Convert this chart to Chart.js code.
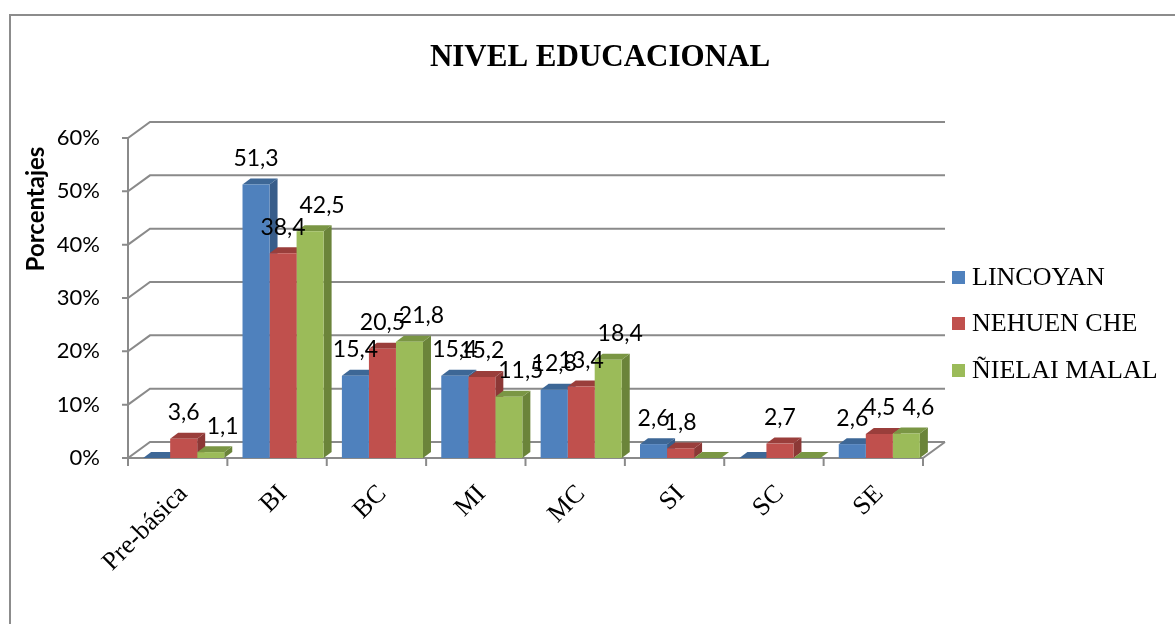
<!DOCTYPE html>
<html><head><meta charset="utf-8">
<script src="https://cdn.jsdelivr.net/npm/chart.js@4.4.0/dist/chart.umd.min.js"></script>
<style>html,body{margin:0;padding:0;background:#fff;overflow:hidden}canvas{display:block}</style>
</head><body>
<canvas id="c" width="1175" height="624" style="width:1175px;height:624px"></canvas>
<script>
const categories = ['Pre-básica', 'BI', 'BC', 'MI', 'MC', 'SI', 'SC', 'SE'];
const seriesNames = ['LINCOYAN', 'NEHUEN CHE', 'ÑIELAI MALAL'];
const lincoyan = [0, 51.3, 15.4, 15.4, 12.8, 2.6, 0, 2.6];
const nehuenChe = [3.6, 38.4, 20.5, 15.2, 13.4, 1.8, 2.7, 4.5];
const nielaiMalal = [1.1, 42.5, 21.8, 11.5, 18.4, 0, 0, 4.6];
const yTickValues = [0, 10, 20, 30, 40, 50, 60];
const chartTitle = 'NIVEL EDUCACIONAL';
const yAxisTitle = 'Porcentajes';

const palette = [
  {front: '#4F81BD', top: '#3D6796', side: '#385D8A'},
  {front: '#C0504D', top: '#9A3E3B', side: '#8C3836'},
  {front: '#9BBB59', top: '#7A9644', side: '#6B843A'}
];
const DX = 22, DY = -16;   // wall depth
const BDX = 8, BDY = -6;   // bar depth
const GRID = '#8a8a8a';
const LABEL_FONT = '23px Lato, "Open Sans", sans-serif';

function poly(ctx, pts, color) {
  ctx.beginPath();
  ctx.moveTo(pts[0][0], pts[0][1]);
  for (let k = 1; k < pts.length; k++) ctx.lineTo(pts[k][0], pts[k][1]);
  ctx.closePath();
  ctx.fillStyle = color;
  ctx.fill();
}

const threeD = {
  id: 'threeD',
  beforeDraw(chart) {
    const ctx = chart.ctx;
    ctx.save();
    ctx.fillStyle = '#fff';
    ctx.fillRect(0, 0, chart.width, chart.height);
    // outer frame
    ctx.strokeStyle = '#8c8c8c';
    ctx.lineWidth = 2;
    ctx.beginPath();
    ctx.moveTo(10, 624); ctx.lineTo(10, 15); ctx.lineTo(1175, 15);
    ctx.stroke();
    // title
    ctx.fillStyle = '#000';
    ctx.font = 'bold 31px "Liberation Serif", "Times New Roman", serif';
    ctx.textAlign = 'center';
    ctx.textBaseline = 'alphabetic';
    ctx.fillText(chartTitle, 600, 66);
    // y axis title
    ctx.save();
    ctx.translate(36, 209);
    ctx.rotate(-Math.PI / 2);
    ctx.font = 'bold 24px Lato, "Open Sans", sans-serif';
    ctx.textBaseline = 'middle';
    ctx.fillText(yAxisTitle, 0, 0);
    ctx.restore();
    // legend
    const ly = [277, 323, 370];
    ctx.font = '26px "Liberation Serif", "Times New Roman", serif';
    ctx.textAlign = 'left';
    ctx.textBaseline = 'middle';
    chart.data.datasets.forEach((ds, i) => {
      ctx.fillStyle = palette[i].front;
      ctx.fillRect(952, ly[i] - 6, 13, 13);
      ctx.fillStyle = '#000';
      ctx.fillText(ds.label, 972, ly[i] + 1);
    });
    ctx.restore();
  },
  beforeDatasetsDraw(chart) {
    const ctx = chart.ctx;
    const ca = chart.chartArea;
    const ys = chart.scales.y;
    const fl = ca.left - 6, fr = ca.right - 6;
    ctx.save();
    ctx.strokeStyle = GRID;
    ctx.lineWidth = 2;
    ctx.beginPath();
    yTickValues.forEach(v => {
      const y = ys.getPixelForValue(v);
      ctx.moveTo(fl - 6, y); ctx.lineTo(fl, y);
      ctx.lineTo(fl + DX, y + DY); ctx.lineTo(fr + DX, y + DY);
    });
    const y0 = ys.getPixelForValue(0);
    const yTop = ys.getPixelForValue(yTickValues[yTickValues.length - 1]);
    ctx.moveTo(fl, yTop); ctx.lineTo(fl, y0);
    ctx.lineTo(fr, y0); ctx.lineTo(fr + DX, y0 + DY);
    const cw = (fr - fl) / categories.length;
    for (let i = 0; i <= categories.length; i++) {
      ctx.moveTo(fl + i * cw, y0); ctx.lineTo(fl + i * cw, y0 + 8);
    }
    ctx.stroke();
    // bar top & side faces
    for (let j = 0; j < categories.length; j++) {
      chart.data.datasets.forEach((ds, i) => {
        const bar = chart.getDatasetMeta(i).data[j];
        const l = bar.x - bar.width / 2, r = bar.x + bar.width / 2;
        const t = bar.y, b = bar.base;
        poly(ctx, [[r, t], [r + BDX, t + BDY], [r + BDX, b + BDY], [r, b]], palette[i].side);
        poly(ctx, [[l, t], [r, t], [r + BDX, t + BDY], [l + BDX, t + BDY]], palette[i].top);
      });
    }
    ctx.restore();
  },
  afterDatasetsDraw(chart) {
    const ctx = chart.ctx;
    ctx.save();
    ctx.fillStyle = '#000';
    ctx.font = LABEL_FONT;
    ctx.textAlign = 'center';
    ctx.textBaseline = 'middle';
    chart.data.datasets.forEach((ds, i) => {
      chart.getDatasetMeta(i).data.forEach((bar, j) => {
        const v = ds.data[j];
        if (!v) return;
        const txt = v.toFixed(1).replace('.', ',');
        ctx.fillText(txt, bar.x + (i === 2 ? 12 : 0), bar.y - 26);
      });
    });
    ctx.restore();
  }
};

const seriesData = [lincoyan, nehuenChe, nielaiMalal];
new Chart(document.getElementById('c'), {
  type: 'bar',
  data: {
    labels: categories,
    datasets: seriesData.map((d, i) => ({
      label: seriesNames[i],
      data: d,
      backgroundColor: palette[i].front,
      borderWidth: 0,
      categoryPercentage: 0.816,
      barPercentage: 1.0
    }))
  },
  options: {
    responsive: false,
    devicePixelRatio: 1,
    animation: false,
    layout: {padding: {left: 10, top: 138, right: 246, bottom: 0}},
    plugins: {legend: {display: false}, tooltip: {enabled: false}, title: {display: false}},
    scales: {
      x: {
        grid: {display: false},
        border: {display: false},
        ticks: {
          color: '#000',
          font: {family: '"Liberation Serif", "Times New Roman", serif', size: 26},
          maxRotation: 45, minRotation: 45, padding: 13, autoSkip: false
        },
        afterFit(s) { s.height = 624 - 458; }
      },
      y: {
        min: 0, max: 60,
        grid: {display: false, drawTicks: false},
        border: {display: false},
        ticks: {
          stepSize: 10,
          color: '#000',
          padding: 34,
          font: {family: 'Lato, "Open Sans", sans-serif', size: 22},
          callback: v => v + '%'
        },
        afterFit(s) { s.width = 124; }
      }
    }
  },
  plugins: [threeD]
});
</script>
</body></html>
